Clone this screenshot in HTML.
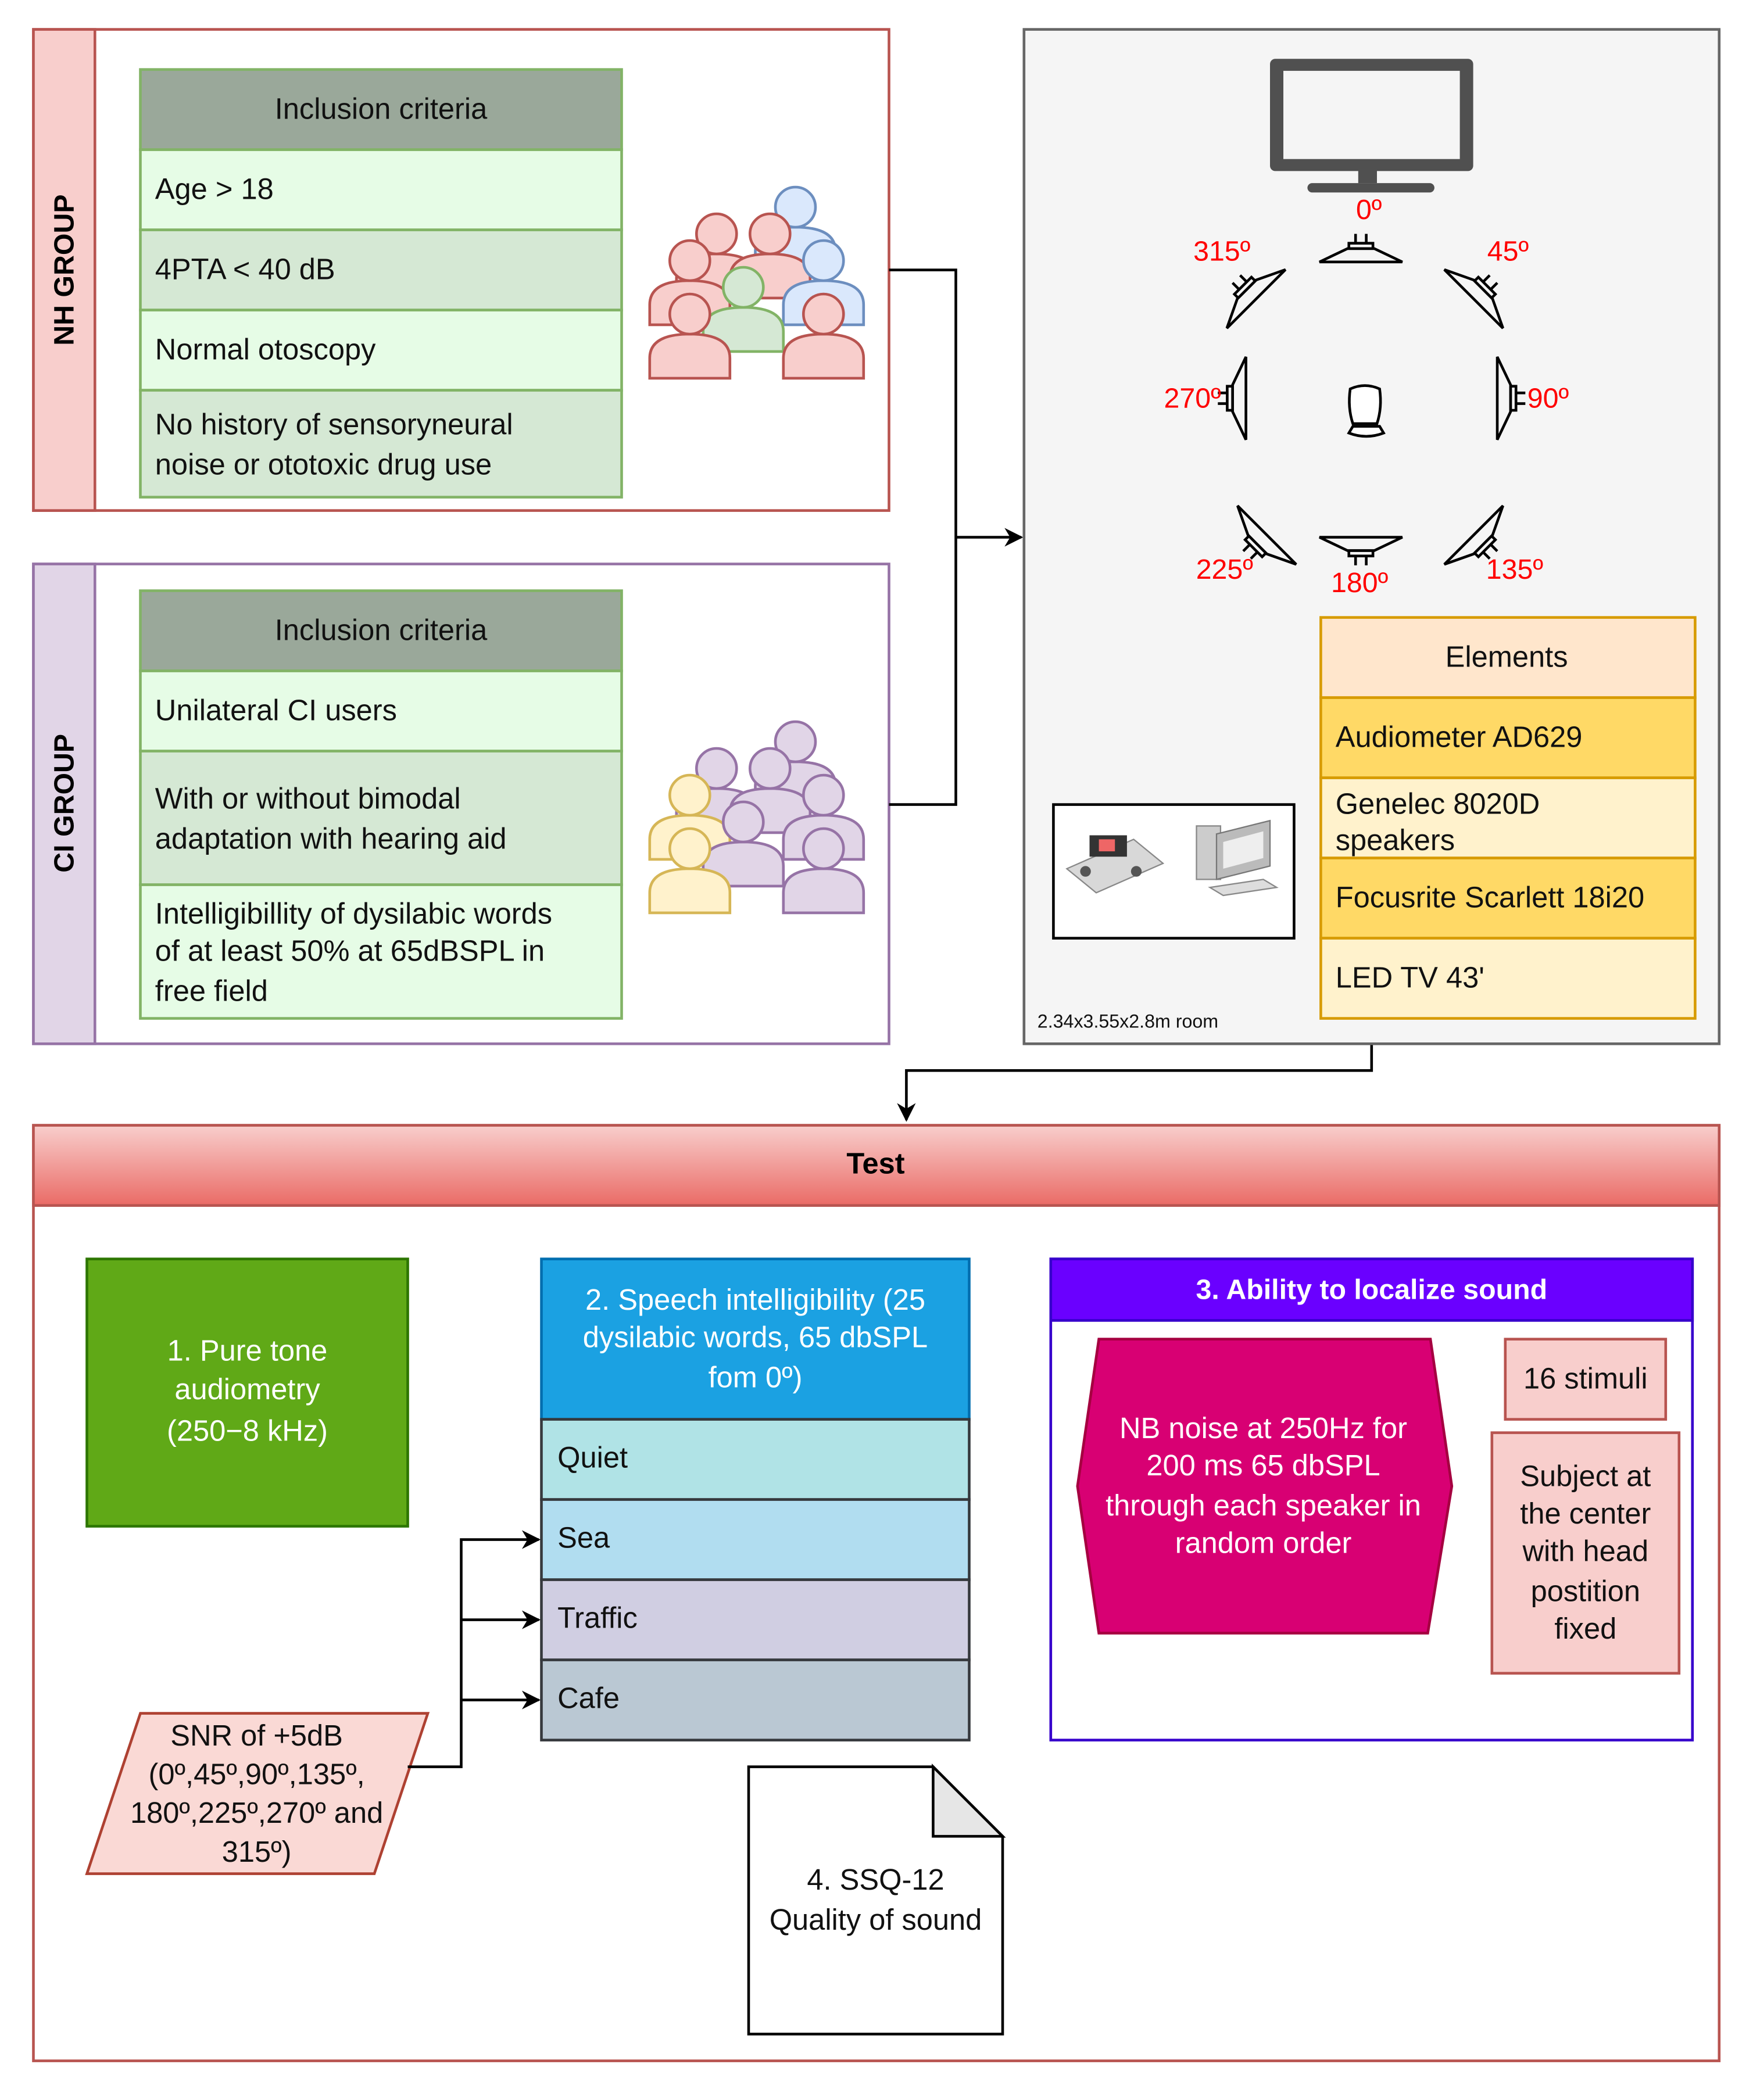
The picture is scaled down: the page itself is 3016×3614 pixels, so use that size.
<!DOCTYPE html>
<html><head><meta charset="utf-8"><style>
html,body{margin:0;padding:0;background:#fff;}
svg{display:block;}
text{font-family:"Liberation Sans",Arial,sans-serif;}
</style></head><body>
<svg width="3016" height="3614" viewBox="0 0 1311.3 1571.3" xmlns="http://www.w3.org/2000/svg">
<defs>
<linearGradient id="tg" x1="0" y1="0" x2="0" y2="1"><stop offset="0" stop-color="#f8cecc"/><stop offset="1" stop-color="#ea6b66"/></linearGradient>
<marker id="ar" viewBox="0 0 10 10" refX="9" refY="5" markerWidth="7" markerHeight="7" orient="auto"><path d="M0,0 L10,5 L0,10 L3,5 Z" fill="#000"/></marker>
<g id="spk" fill="none" stroke="#000" stroke-width="2">
<polygon points="-31,8 31,8 10,-2 -10,-2" fill="#f5f5f5"/>
<rect x="-9" y="-6" width="18" height="4" fill="#f5f5f5"/>
<line x1="-4" y1="-6" x2="-4" y2="-13"/><line x1="4" y1="-6" x2="4" y2="-13"/>
</g>
</defs>
<rect width="1311.3" height="1571.3" fill="#fff"/>

<!-- NH group -->
<rect x="25" y="22" width="640" height="360" fill="#fff" stroke="#b85450" stroke-width="2"/>
<rect x="25" y="22" width="46" height="360" fill="#f8cecc" stroke="#b85450" stroke-width="2"/>
<text transform="translate(55,202) rotate(-90)" text-anchor="middle" font-size="21" font-weight="bold">NH GROUP</text>
<g stroke="#82b366" stroke-width="2">
<rect x="105" y="52" width="360" height="60" fill="#9aa89a"/>
<rect x="105" y="112" width="360" height="60" fill="#e6fce6"/>
<rect x="105" y="172" width="360" height="60" fill="#d5e8d4"/>
<rect x="105" y="232" width="360" height="60" fill="#e6fce6"/>
<rect x="105" y="292" width="360" height="80" fill="#d5e8d4"/>
</g>
<g font-size="22" fill="#111">
<text x="285" y="89" text-anchor="middle">Inclusion criteria</text>
<text x="116" y="149">Age &gt; 18</text>
<text x="116" y="209">4PTA &lt; 40 dB</text>
<text x="116" y="269">Normal otoscopy</text>
<text x="116" y="325">No history of sensoryneural</text>
<text x="116" y="355">noise or ototoxic drug use</text>
</g>

<!-- CI group -->
<rect x="25" y="422" width="640" height="359" fill="#fff" stroke="#9673a6" stroke-width="2"/>
<rect x="25" y="422" width="46" height="359" fill="#e1d5e7" stroke="#9673a6" stroke-width="2"/>
<text transform="translate(55,601) rotate(-90)" text-anchor="middle" font-size="21" font-weight="bold">CI GROUP</text>
<g stroke="#82b366" stroke-width="2">
<rect x="105" y="442" width="360" height="60" fill="#9aa89a"/>
<rect x="105" y="502" width="360" height="60" fill="#e6fce6"/>
<rect x="105" y="562" width="360" height="100" fill="#d5e8d4"/>
<rect x="105" y="662" width="360" height="100" fill="#e6fce6"/>
</g>
<g font-size="22" fill="#111">
<text x="285" y="479" text-anchor="middle">Inclusion criteria</text>
<text x="116" y="539">Unilateral CI users</text>
<text x="116" y="605">With or without bimodal</text>
<text x="116" y="635">adaptation with hearing aid</text>
<text x="116" y="691">Intelligibillity of dysilabic words</text>
<text x="116" y="719">of at least 50% at 65dBSPL in</text>
<text x="116" y="749">free field</text>
</g>

<!-- people -->
<g stroke-width="2">
<g fill="#dae8fc" stroke="#6c8ebf"><path d="M565,203 v-15 q0,-18 30,-18 q30,0 30,18 v15 z"/><circle cx="595" cy="155" r="15"/></g>
<g fill="#f8cecc" stroke="#b85450"><path d="M506,223 v-15 q0,-18 30,-18 q30,0 30,18 v15 z"/><circle cx="536" cy="175" r="15"/></g>
<g fill="#f8cecc" stroke="#b85450"><path d="M546,223 v-15 q0,-18 30,-18 q30,0 30,18 v15 z"/><circle cx="576" cy="175" r="15"/></g>
<g fill="#dae8fc" stroke="#6c8ebf"><path d="M586,243 v-15 q0,-18 30,-18 q30,0 30,18 v15 z"/><circle cx="616" cy="195" r="15"/></g>
<g fill="#f8cecc" stroke="#b85450"><path d="M486,243 v-15 q0,-18 30,-18 q30,0 30,18 v15 z"/><circle cx="516" cy="195" r="15"/></g>
<g fill="#d5e8d4" stroke="#82b366"><path d="M526,263 v-15 q0,-18 30,-18 q30,0 30,18 v15 z"/><circle cx="556" cy="215" r="15"/></g>
<g fill="#f8cecc" stroke="#b85450"><path d="M486,283 v-15 q0,-18 30,-18 q30,0 30,18 v15 z"/><circle cx="516" cy="235" r="15"/></g>
<g fill="#f8cecc" stroke="#b85450"><path d="M586,283 v-15 q0,-18 30,-18 q30,0 30,18 v15 z"/><circle cx="616" cy="235" r="15"/></g>

<g fill="#e1d5e7" stroke="#9673a6"><path d="M565,603 v-15 q0,-18 30,-18 q30,0 30,18 v15 z"/><circle cx="595" cy="555" r="15"/></g>
<g fill="#e1d5e7" stroke="#9673a6"><path d="M506,623 v-15 q0,-18 30,-18 q30,0 30,18 v15 z"/><circle cx="536" cy="575" r="15"/></g>
<g fill="#e1d5e7" stroke="#9673a6"><path d="M546,623 v-15 q0,-18 30,-18 q30,0 30,18 v15 z"/><circle cx="576" cy="575" r="15"/></g>
<g fill="#e1d5e7" stroke="#9673a6"><path d="M586,643 v-15 q0,-18 30,-18 q30,0 30,18 v15 z"/><circle cx="616" cy="595" r="15"/></g>
<g fill="#fff2cc" stroke="#d6b656"><path d="M486,643 v-15 q0,-18 30,-18 q30,0 30,18 v15 z"/><circle cx="516" cy="595" r="15"/></g>
<g fill="#e1d5e7" stroke="#9673a6"><path d="M526,663 v-15 q0,-18 30,-18 q30,0 30,18 v15 z"/><circle cx="556" cy="615" r="15"/></g>
<g fill="#fff2cc" stroke="#d6b656"><path d="M486,683 v-15 q0,-18 30,-18 q30,0 30,18 v15 z"/><circle cx="516" cy="635" r="15"/></g>
<g fill="#e1d5e7" stroke="#9673a6"><path d="M586,683 v-15 q0,-18 30,-18 q30,0 30,18 v15 z"/><circle cx="616" cy="635" r="15"/></g>
</g>

<!-- connectors top -->
<g fill="none" stroke="#000" stroke-width="2">
<polyline points="665,202 715,202 715,602 665,602"/>
<line x1="715" y1="402" x2="764" y2="402" marker-end="url(#ar)"/>
<polyline points="1026,781 1026,801 678,801 678,838" marker-end="url(#ar)"/>
</g>

<!-- Room -->
<rect x="766" y="22" width="520" height="759" fill="#f5f5f5" stroke="#666" stroke-width="2"/>
<rect x="950" y="44" width="152" height="84" rx="4" fill="#505050"/>
<rect x="960" y="53" width="132" height="66" fill="#f5f5f5"/>
<rect x="1016" y="127" width="14" height="10" fill="#505050"/>
<rect x="978" y="137" width="95" height="7" rx="3.5" fill="#505050"/>

<use href="#spk" transform="translate(1018,188)"/>
<use href="#spk" transform="translate(1018,410) rotate(180)"/>
<use href="#spk" transform="translate(1128,298) rotate(90)"/>
<use href="#spk" transform="translate(924,298) rotate(-90)"/>
<use href="#spk" transform="translate(1108,218) rotate(45)"/>
<use href="#spk" transform="translate(934,218) rotate(-45)"/>
<use href="#spk" transform="translate(1108,406) rotate(135)"/>
<use href="#spk" transform="translate(942,406) rotate(-135)"/>
<g fill="#fff" stroke="#000" stroke-width="2">
<path d="M1010,291 q11,-5 22,0 q2,14 -2,26 h-18 q-4,-12 -2,-26 z"/>
<path d="M1009,324 q13,5 26,0 l-3,-5 h-20 z"/>
</g>
<g fill="#ff0000" font-size="21">
<text x="1024" y="164" text-anchor="middle">0º</text>
<text x="914" y="195" text-anchor="middle">315º</text>
<text x="1128" y="195" text-anchor="middle">45º</text>
<text x="892" y="305" text-anchor="middle">270º</text>
<text x="1158" y="305" text-anchor="middle">90º</text>
<text x="916" y="433" text-anchor="middle">225º</text>
<text x="1017" y="443" text-anchor="middle">180º</text>
<text x="1133" y="433" text-anchor="middle">135º</text>
</g>

<g stroke="#d79b00" stroke-width="2">
<rect x="988" y="462" width="280" height="60" fill="#ffe6cc"/>
<rect x="988" y="522" width="280" height="60" fill="#ffd966"/>
<rect x="988" y="582" width="280" height="60" fill="#fff2cc"/>
<rect x="988" y="642" width="280" height="60" fill="#ffd966"/>
<rect x="988" y="702" width="280" height="60" fill="#fff2cc"/>
</g>
<g font-size="22" fill="#111">
<text x="1127" y="499" text-anchor="middle">Elements</text>
<text x="999" y="559">Audiometer AD629</text>
<text x="999" y="609">Genelec 8020D</text>
<text x="999" y="636">speakers</text>
<text x="999" y="679">Focusrite Scarlett 18i20</text>
<text x="999" y="739">LED TV 43'</text>
</g>

<rect x="788" y="602" width="180" height="100" fill="#fff" stroke="#000" stroke-width="2"/>
<g>
<path d="M798,650 l50,-22 l22,18 l-50,22 z" fill="#d8d8d8" stroke="#888"/>
<rect x="815" y="625" width="28" height="16" fill="#333"/>
<rect x="822" y="628" width="12" height="9" fill="#e66"/>
<circle cx="812" cy="652" r="4" fill="#555"/><circle cx="850" cy="652" r="4" fill="#555"/>
<rect x="895" y="618" width="18" height="40" fill="#ccc" stroke="#888"/>
<path d="M910,624 l40,-10 v34 l-40,10 z" fill="#bbb" stroke="#777"/>
<path d="M915,630 l30,-8 v20 l-30,8 z" fill="#eee"/>
<path d="M905,664 l40,-6 l10,6 l-40,6 z" fill="#ddd" stroke="#888"/>
</g>
<text x="776" y="769" font-size="14" fill="#111">2.34x3.55x2.8m  room</text>

<!-- Test -->
<rect x="25" y="842" width="1261" height="700" fill="#fff" stroke="#b85450" stroke-width="2"/>
<rect x="25" y="842" width="1261" height="60" fill="url(#tg)" stroke="#b85450" stroke-width="2"/>
<text x="655" y="878" text-anchor="middle" font-size="22" font-weight="bold">Test</text>

<rect x="65" y="942" width="240" height="200" fill="#60a917" stroke="#2d7600" stroke-width="2"/>
<g fill="#fff" font-size="22" text-anchor="middle">
<text x="185" y="1018">1. Pure tone</text>
<text x="185" y="1047">audiometry</text>
<text x="185" y="1078">(250−8 kHz)</text>
</g>

<rect x="405" y="942" width="320" height="120" fill="#1ba1e2" stroke="#006eaf" stroke-width="2"/>
<g fill="#fff" font-size="22" text-anchor="middle">
<text x="565" y="980">2. Speech intelligibility (25</text>
<text x="565" y="1008">dysilabic words, 65 dbSPL</text>
<text x="565" y="1038">fom 0º)</text>
</g>
<g stroke="#36393d" stroke-width="2">
<rect x="405" y="1062" width="320" height="60" fill="#b0e3e6"/>
<rect x="405" y="1122" width="320" height="60" fill="#b1ddf0"/>
<rect x="405" y="1182" width="320" height="60" fill="#d0cee2"/>
<rect x="405" y="1242" width="320" height="60" fill="#bac8d3"/>
</g>
<g font-size="22" fill="#111">
<text x="417" y="1098">Quiet</text>
<text x="417" y="1158">Sea</text>
<text x="417" y="1218">Traffic</text>
<text x="417" y="1278">Cafe</text>
</g>

<polygon points="105,1282 320,1282 280,1402 65,1402" fill="#fad9d5" stroke="#ae4132" stroke-width="2"/>
<g font-size="22" fill="#111" text-anchor="middle">
<text x="192" y="1306">SNR of +5dB</text>
<text x="192" y="1335">(0º,45º,90º,135º,</text>
<text x="192" y="1364">180º,225º,270º and</text>
<text x="192" y="1393">315º)</text>
</g>
<g fill="none" stroke="#000" stroke-width="2">
<polyline points="305,1322 345,1322 345,1152 403,1152" marker-end="url(#ar)"/>
<line x1="345" y1="1212" x2="403" y2="1212" marker-end="url(#ar)"/>
<line x1="345" y1="1272" x2="403" y2="1272" marker-end="url(#ar)"/>
</g>

<path d="M560,1322 H698 L750,1374 V1522 H560 Z" fill="#fff" stroke="#000" stroke-width="2"/>
<path d="M698,1322 V1374 H750 Z" fill="#e6e6e6" stroke="#000" stroke-width="2"/>
<g font-size="22" fill="#111" text-anchor="middle">
<text x="655" y="1414">4. SSQ-12</text>
<text x="655" y="1444">Quality of sound</text>
</g>

<rect x="786" y="942" width="480" height="360" fill="#fff" stroke="#3700cc" stroke-width="2"/>
<rect x="786" y="942" width="480" height="46" fill="#6a00ff" stroke="#3700cc" stroke-width="2"/>
<text x="1026" y="972" text-anchor="middle" font-size="21" font-weight="bold" fill="#fff">3. Ability to localize sound</text>
<polygon points="822,1002 1070,1002 1086,1112 1068,1222 822,1222 806,1112" fill="#d80073" stroke="#a50040" stroke-width="2"/>
<g font-size="22" fill="#fff" text-anchor="middle">
<text x="945" y="1076">NB noise at 250Hz for</text>
<text x="945" y="1104">200 ms 65 dbSPL</text>
<text x="945" y="1134">through each speaker in</text>
<text x="945" y="1162">random order</text>
</g>
<rect x="1126" y="1002" width="120" height="60" fill="#f8cecc" stroke="#b85450" stroke-width="2"/>
<rect x="1116" y="1072" width="140" height="180" fill="#f8cecc" stroke="#b85450" stroke-width="2"/>
<g font-size="22" fill="#111" text-anchor="middle">
<text x="1186" y="1039">16 stimuli</text>
<text x="1186" y="1112">Subject at</text>
<text x="1186" y="1140">the center</text>
<text x="1186" y="1168">with head</text>
<text x="1186" y="1198">postition</text>
<text x="1186" y="1226">fixed</text>
</g>
</svg>
</body></html>
